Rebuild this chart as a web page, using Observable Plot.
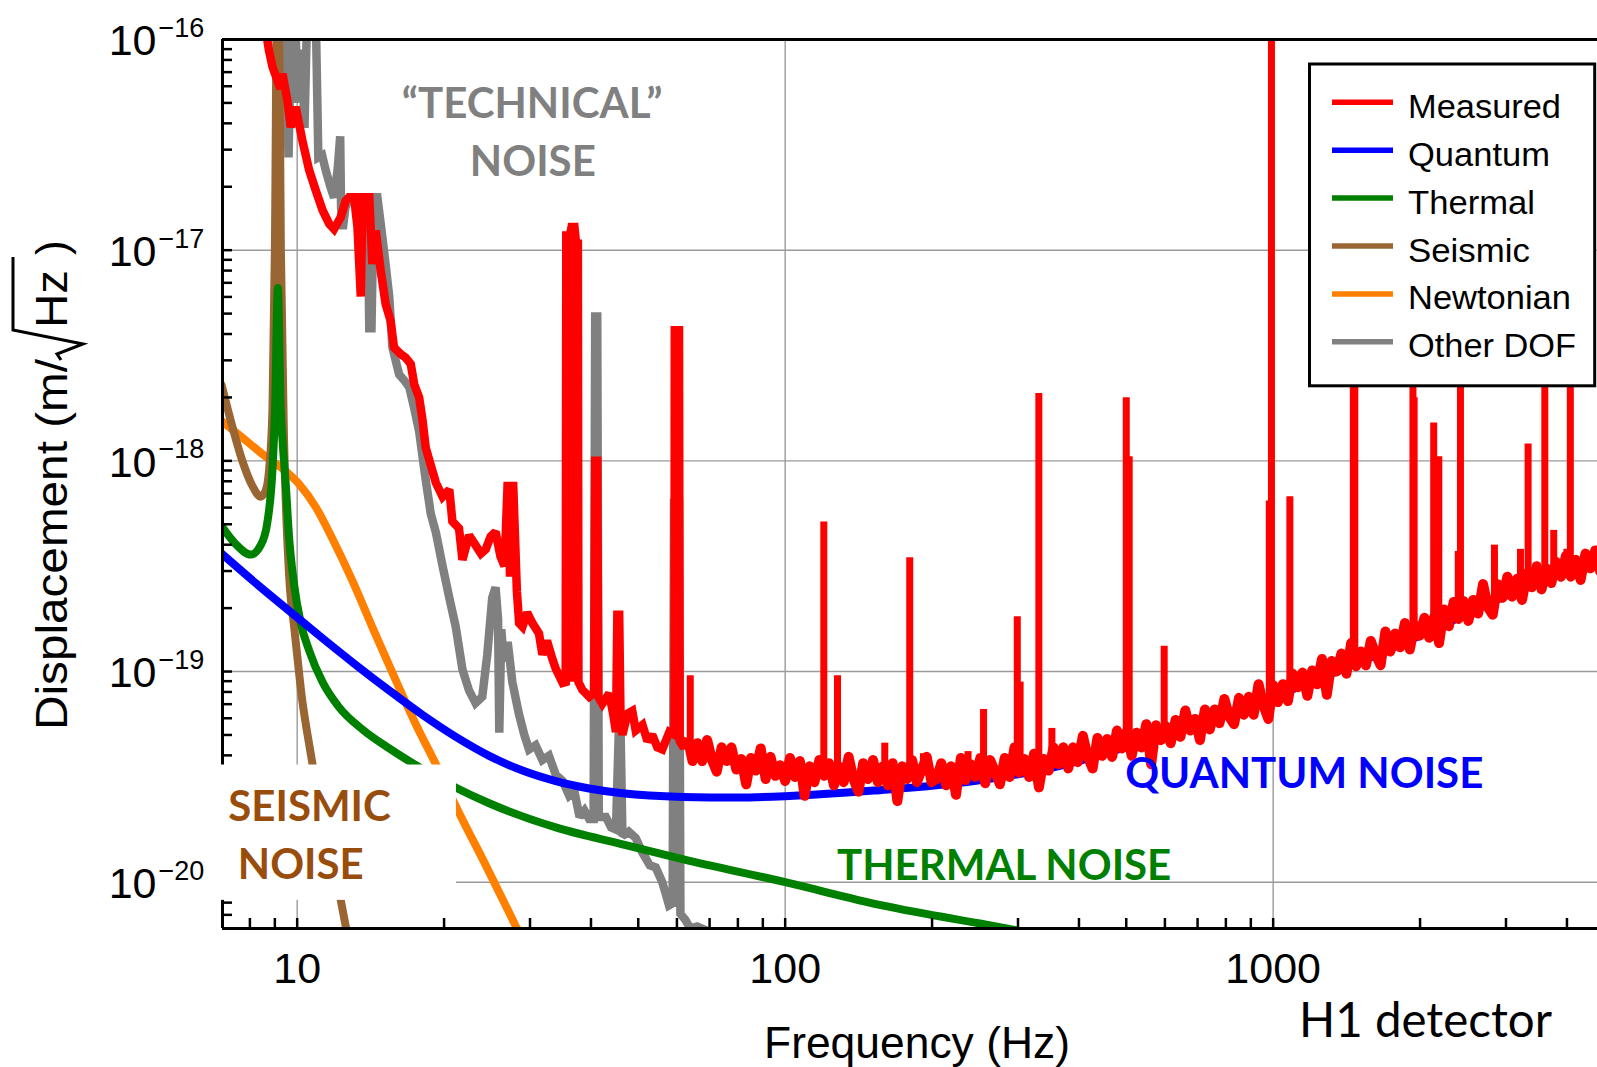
<!DOCTYPE html>
<html>
<head>
<meta charset="utf-8">
<script src="https://cdn.jsdelivr.net/npm/d3@7"></script>
<script src="https://cdn.jsdelivr.net/npm/@observablehq/plot@0.6"></script>
<style>
  html, body { margin: 0; padding: 0; background: #fff; }
  #wrap { position: relative; width: 1597px; height: 1067px; overflow: hidden; background: #fff; }
  #wrap > svg { position: absolute; left: 0; top: 0; }
</style>
</head>
<body>
<div id="wrap"></div>
<script>
// ================= DATA (frequency in Hz, value as log10 of m/sqrt(Hz)) =================
const seriesNames  = ["Measured", "Quantum", "Thermal", "Seismic", "Newtonian", "Other DOF"];
const seriesColors = ["#ff0000", "#0000ff", "#008000", "#996633", "#ff8000", "#808080"];

const xTickLabels    = [10, 100, 1000];
const yTickExponents = [-16, -17, -18, -19, -20];
const xDomainHz = [7.03, 4620];
const yDomain   = [6.03e-21, 1e-16];

// Quantum noise
const quantum = [[7.0,-18.44],[8.22,-18.58],[9.63,-18.712],[11.27,-18.842],[13.18,-18.968],[15.44,-19.09],
  [18.05,-19.205],[21.14,-19.31],[24.74,-19.40],[28.95,-19.47],[33.88,-19.52],[39.66,-19.555],[46.4,-19.578],
  [61.6,-19.595],[80,-19.598],[100,-19.592],[151.9,-19.565],[243.9,-19.52],[362,-19.45],[616,-19.29],
  [1000,-19.12],[1486,-18.96],[2200,-18.785],[3316,-18.595],[4700,-18.45]];

// Thermal noise
const thermal = [[7.0,-18.31],[7.48,-18.395],[8.03,-18.445],[8.42,-18.40],[8.69,-18.29],[8.90,-18.04],
  [9.01,-17.75],[9.13,-17.18],[9.25,-17.75],[9.33,-17.90],[9.48,-18.12],[9.63,-18.37],[9.86,-18.59],
  [10.17,-18.77],[10.58,-18.90],[11.27,-19.05],[12.19,-19.17],[13.61,-19.275],[15.44,-19.365],[17.37,-19.44],
  [21.31,-19.555],[24.74,-19.625],[33.88,-19.74],[46.4,-19.82],[61.6,-19.89],[100,-20.00],[158,-20.11],
  [293,-20.225],[400,-20.29]];

// Seismic noise
const seismic = [[7.0,-17.64],[7.37,-17.84],[7.72,-18.00],[8.10,-18.12],[8.42,-18.17],[8.62,-18.14],
  [8.76,-18.04],[8.9,-17.75],[9.0,-17.0],[9.13,-15.3],[9.26,-17.0],[9.4,-17.9],[9.63,-18.55],[9.86,-18.79],
  [10.05,-18.97],[10.22,-19.12],[10.5,-19.30],[10.75,-19.44],[11.65,-19.81],[12.6,-20.22],[13.3,-20.5]];

// Newtonian noise
const newtonian = [[7.0,-17.81],[7.72,-17.89],[8.62,-17.98],[9.48,-18.05],[10.09,-18.11],[10.92,-18.22],
  [11.81,-18.37],[12.98,-18.57],[14.26,-18.79],[15.91,-19.04],[17.5,-19.25],[19.24,-19.44],[21.46,-19.67],
  [24.35,-19.92],[28.07,-20.21],[30.5,-20.38]];

// Other degrees of freedom
const otherDOF = [[9.2,-15.8],[9.45,-15.8],[9.6,-16.56],[9.75,-15.8],[9.9,-15.8],[10.0,-16.30],[10.15,-16.05],
  [10.25,-16.10],[10.35,-16.42],[10.5,-15.8],[10.9,-15.8],[11.05,-16.56],[11.25,-16.55],[11.44,-16.62],
  [11.7,-16.70],[11.9,-16.75],[12.1,-16.62],[12.25,-16.46],[12.3,-16.80],[12.4,-16.90],[12.55,-16.80],
  [12.8,-16.749],[13.95,-16.749],[14.05,-17.37],[14.2,-17.37],[14.35,-16.749],[14.6,-16.749],[14.95,-16.94],
  [15.18,-17.07],[15.44,-17.22],[15.67,-17.46],[15.9,-17.52],[16.18,-17.59],[16.6,-17.62],[16.97,-17.65],
  [17.37,-17.75],[17.78,-17.86],[18.34,-18.09],[18.78,-18.25],[19.24,-18.34],[19.86,-18.50],[20.5,-18.65],
  [21.14,-18.79],[21.81,-18.99],[22.5,-19.09],[23.2,-19.15],[23.95,-19.12],[24.52,-18.92],[25.1,-18.65],
  [25.5,-18.60],[25.8,-18.75],[25.95,-19.29],[26.2,-18.80],[26.5,-18.95],[27.0,-18.86],[27.6,-19.05],
  [28.46,-19.20],[29.2,-19.30],[29.86,-19.37],[30.8,-19.35],[31.8,-19.42],[32.8,-19.40],[33.88,-19.49],
  [35.0,-19.52],[36.1,-19.59],[37.0,-19.57],[37.9,-19.69],[38.8,-19.66],[39.66,-19.70],[40.5,-19.70],
  [40.8,-17.315],[41.2,-17.315],[41.5,-19.69],[42.9,-19.69],[44.0,-19.74],[45.0,-19.75],[45.6,-19.29],
  [46.0,-19.29],[46.4,-19.78],[47.8,-19.76],[49.4,-19.79],[51.0,-19.86],[52.8,-19.92],[54.3,-19.93],
  [56.0,-20.00],[57.0,-20.06],[57.8,-20.11],[58.8,-20.10],[59.2,-18.2],[60.6,-18.2],[61.0,-20.15],
  [62.5,-20.18],[63.9,-20.22],[66.0,-20.21],[69.1,-20.23]];

// Measured, low-frequency part (below ~63 Hz)
const measuredLow = [[8.55,-15.9],[8.75,-16.05],[8.9,-16.13],[9.11,-16.195],[9.25,-16.234],[9.33,-16.163],
  [9.55,-16.29],[9.7,-16.417],[9.93,-16.32],[10.25,-16.48],[10.58,-16.62],[10.92,-16.717],[11.27,-16.81],
  [11.63,-16.875],[11.9,-16.9],[12.1,-16.87],[12.28,-16.844],[12.57,-16.765],[12.78,-16.749],[13.08,-16.749],
  [13.29,-16.89],[13.5,-17.22],[13.61,-16.749],[14.05,-16.749],[14.26,-17.066],[14.49,-16.907],[14.83,-17.097],
  [15.18,-17.256],[15.54,-17.335],[15.79,-17.462],[16.29,-17.493],[16.68,-17.51],[17.09,-17.54],[17.37,-17.636],
  [17.78,-17.7],[18.05,-17.8],[18.34,-17.937],[18.78,-18.02],[19.24,-18.104],[19.86,-18.17],[20.5,-18.137],
  [20.8,-18.287],[21.46,-18.32],[21.81,-18.47],[22.5,-18.354],[23.2,-18.4],[23.8,-18.44],[24.35,-18.42],
  [24.9,-18.36],[25.5,-18.337],[26.1,-18.454],[26.6,-18.5],[27.0,-18.1],[27.3,-18.55],[27.7,-18.1],[28.2,-18.62],
  [28.5,-18.77],[28.95,-18.787],[29.6,-18.72],[30.34,-18.77],[31.3,-18.82],[31.8,-18.92],[32.5,-18.853],
  [33.3,-18.937],[33.88,-18.987],[35.0,-19.054],[35.5,-19.05],[35.6,-16.93],[36.2,-16.93],[36.5,-16.89],
  [37.0,-16.89],[37.3,-16.97],[37.6,-16.97],[37.7,-19.05],[38.4,-19.087],[39.66,-19.12],[40.6,-19.1],
  [40.8,-18.0],[41.2,-18.0],[41.4,-19.12],[42.2,-19.153],[43.6,-19.104],[44.4,-19.2],[45.0,-19.287],
  [45.3,-18.73],[45.7,-18.73],[46.0,-19.25],[46.4,-19.3],[47.5,-19.2],[48.6,-19.187],[49.4,-19.28],
  [51.0,-19.254],[52.2,-19.33],[53.4,-19.3],[54.7,-19.36],[56.0,-19.37],[57.9,-19.287],[59.3,-19.3],
  [59.4,-17.38],[60.6,-17.38],[60.8,-19.33],[62.0,-19.362],[63.1,-19.315]];

// Measured, broadband part above ~63 Hz
const measuredHigh = [[63.1,-19.315],[64.6,-19.425],[66.1,-19.34],[67.6,-19.425],[69.2,-19.325],[70.8,-19.42],
  [72.4,-19.475],[74.1,-19.36],[75.9,-19.425],[77.6,-19.36],[79.4,-19.465],[81.3,-19.415],[83.2,-19.535],
  [85.1,-19.41],[87.1,-19.47],[89.1,-19.365],[91.2,-19.51],[93.3,-19.405],[95.5,-19.495],[97.7,-19.445],
  [100,-19.52],[102.3,-19.41],[104.7,-19.50],[107.2,-19.425],[109.6,-19.59],[112.2,-19.45],[114.8,-19.525],
  [117.5,-19.42],[120.2,-19.495],[123.0,-19.435],[125.9,-19.54],[128.8,-19.45],[131.8,-19.525],[134.9,-19.405],
  [138.0,-19.51],[141.3,-19.57],[144.5,-19.435],[147.9,-19.51],[151.4,-19.42],[154.9,-19.525],[158.5,-19.45],
  [162.2,-19.54],[166.0,-19.435],[169.8,-19.615],[173.8,-19.45],[177.8,-19.51],[182.0,-19.42],[186.2,-19.525],
  [190.5,-19.465],[195.0,-19.405],[199.5,-19.525],[204.2,-19.51],[208.9,-19.435],[213.8,-19.54],[218.8,-19.45],
  [223.9,-19.585],[229.1,-19.41],[234.4,-19.515],[239.9,-19.44],[245.5,-19.50],[251.2,-19.41],[257.0,-19.53],
  [263.0,-19.42],[269.2,-19.475],[275.4,-19.535],[281.8,-19.41],[288.4,-19.50],[295.1,-19.36],[302.0,-19.48],
  [309.0,-19.415],[316.2,-19.50],[323.6,-19.39],[331.1,-19.55],[338.8,-19.415],[346.7,-19.47],[354.8,-19.36],
  [363.1,-19.44],[371.5,-19.36],[380.2,-19.46],[389.0,-19.36],[398.1,-19.43],[407.4,-19.305],[416.9,-19.405],
  [426.6,-19.46],[436.5,-19.315],[446.7,-19.40],[457.1,-19.32],[467.7,-19.405],[478.6,-19.28],[489.8,-19.365],
  [501.2,-19.285],[512.9,-19.40],[524.8,-19.29],[537.0,-19.36],[549.5,-19.25],[562.3,-19.44],[575.4,-19.255],
  [588.8,-19.325],[602.6,-19.26],[616.6,-19.34],[631.0,-19.23],[645.7,-19.31],[660.7,-19.185],[676.1,-19.28],
  [691.8,-19.225],[707.9,-19.325],[724.4,-19.18],[741.3,-19.275],[758.6,-19.18],[776.2,-19.245],[794.3,-19.13],
  [812.8,-19.215],[831.8,-19.25],[851.1,-19.125],[871.0,-19.205],[891.3,-19.12],[912.0,-19.205],[933.3,-19.06],
  [955.0,-19.16],[977.2,-19.225],[1000,-19.065],[1023,-19.145],[1047,-19.06],[1072,-19.14],[1096,-19.01],
  [1122,-19.075],[1148,-19.005],[1175,-19.115],[1202,-18.995],[1230,-19.06],[1259,-18.94],[1288,-19.11],
  [1318,-18.95],[1349,-19.00],[1380,-18.915],[1413,-19.01],[1445,-18.865],[1479,-18.975],[1514,-18.905],
  [1549,-18.97],[1585,-18.855],[1622,-18.92],[1660,-18.97],[1698,-18.81],[1738,-18.905],[1778,-18.82],
  [1820,-18.885],[1862,-18.77],[1905,-18.895],[1950,-18.78],[1995,-18.83],[2042,-18.745],[2089,-18.84],
  [2138,-18.74],[2188,-18.865],[2239,-18.705],[2291,-18.785],[2344,-18.67],[2399,-18.75],[2455,-18.665],
  [2512,-18.76],[2570,-18.66],[2630,-18.725],[2692,-18.585],[2754,-18.695],[2818,-18.73],[2884,-18.585],
  [2951,-18.65],[3020,-18.55],[3090,-18.645],[3162,-18.56],[3236,-18.66],[3311,-18.535],[3388,-18.60],
  [3467,-18.50],[3548,-18.61],[3631,-18.51],[3715,-18.58],[3802,-18.48],[3890,-18.55],[3981,-18.45],
  [4074,-18.55],[4169,-18.47],[4266,-18.565],[4365,-18.44],[4467,-18.51],[4571,-18.425],[4677,-18.525],
  [4786,-18.43]];

// Measured, narrow spectral lines: [Hz, local floor, peak]
const measuredLines = [[36.0,-19.05,-16.93],[36.6,-19.05,-16.89],[37.2,-19.05,-16.97],
  [63.9,-19.36,-19.02],[120,-19.48,-18.29],[128,-19.48,-19.02],[160,-19.48,-19.34],
  [180,-19.48,-18.46],[192,-19.48,-19.39],[237,-19.47,-19.38],[255,-19.47,-19.18],[299,-19.45,-18.74],
  [303,-19.45,-19.05],[331,-19.43,-17.68],[352,-19.42,-19.27],[500,-19.33,-17.70],[507,-19.33,-17.98],
  [598,-19.29,-18.88],[982,-19.12,-18.19],[992,-19.12,-15.5],[1082,-19.08,-18.17],[1460,-18.94,-17.3],
  [1470,-18.94,-17.3],[1934,-18.82,-17.3],[1945,-18.82,-17.70],[2133,-18.77,-17.82],[2185,-18.76,-17.98],
  [2395,-18.72,-18.43],[2420,-18.72,-17.3],[2841,-18.65,-18.40],[3212,-18.59,-18.42],[3330,-18.58,-17.92],
  [3603,-18.55,-17.3],[3758,-18.53,-18.33],[4000,-18.51,-18.42],[4064,-18.51,-17.3]];

// Annotations: [text, Hz, log10 value, color]
const annotations = [["“TECHNICAL”",30.3,-16.309,"#808080"],["NOISE",30.4,-16.582,"#808080"],
  ["SEISMIC",10.6,-19.646,"#994d0d"],["NOISE",10.17,-19.92,"#994d0d"],
  ["QUANTUM NOISE",1158,-19.49,"#0000ff"],["THERMAL NOISE",281,-19.925,"#008000"]];
const seismicLabelBackground = [{x1: 6.7, x2: 21.2, y1: 8.2e-21, y2: 3.6e-20}];

// ================= LAYOUT =================
const W = 1597, H = 1067, MT = 39, MB = 139, ML = 222, MR = 0;
const frameW = W - ML - MR, frameH = H - MT - MB;
const SANS = "'Liberation Sans', Arial, sans-serif";
const toRows = pairs => pairs.map(([f, l]) => ({f, v: 10 ** l}));
const lineRows = measuredLines.map(([f, b, t]) => ({f, b: 10 ** b, t: 10 ** t}));
const [cMeas, cQuant, cTherm, cSeis, cNewt, cOther] = seriesColors;
const jag = {strokeWidth: 8.5, strokeLinejoin: "miter", strokeLinecap: "butt", strokeMiterlimit: 2, clip: true};
const noisy = {strokeWidth: 10, strokeLinejoin: "round", strokeLinecap: "butt", clip: true};
const smooth = {curve: "monotone-x", strokeWidth: 8, strokeLinejoin: "round", clip: true};

const xTicks = d3.scaleLog().domain(xDomainHz).ticks();
const yTicks = d3.scaleLog().domain(yDomain).ticks();

const annoMarks = annotations.map(([t, f, l, c]) => Plot.text([{f, v: 10 ** l}], {
  x: "f", y: "v", text: () => t, fill: c, fontFamily: "Lato", fontWeight: "bold", fontSize: 42, textAnchor: "middle"
}));

const chart = Plot.plot({
  width: W, height: H, marginTop: MT, marginBottom: MB, marginLeft: ML, marginRight: MR,
  x: {type: "log", domain: xDomainHz, axis: null},
  y: {type: "log", domain: yDomain, axis: null},
  style: {background: "white", fontFamily: SANS, overflow: "visible"},
  marks: [
    Plot.ruleX(xTickLabels, {stroke: "#9a9a9a", strokeWidth: 1.4}),
    Plot.ruleY(yTickExponents.map(e => 10 ** e), {stroke: "#9a9a9a", strokeWidth: 1.4}),
    Plot.line(toRows(otherDOF), {x: "f", y: "v", stroke: cOther, ...jag}),
    Plot.line(toRows(newtonian), {x: "f", y: "v", stroke: cNewt, ...smooth}),
    Plot.line(toRows(seismic), {x: "f", y: "v", stroke: cSeis, ...smooth}),
    Plot.line(toRows(thermal), {x: "f", y: "v", stroke: cTherm, ...smooth}),
    Plot.line(toRows(quantum), {x: "f", y: "v", stroke: cQuant, ...smooth}),
    Plot.line(toRows(measuredLow), {x: "f", y: "v", stroke: cMeas, ...jag}),
    Plot.line(toRows(measuredHigh), {x: "f", y: "v", stroke: cMeas, ...noisy}),
    Plot.ruleX(lineRows, {x: "f", y1: "b", y2: "t", stroke: cMeas, strokeWidth: 7, clip: true}),
    // frame and inward ticks
    Plot.ruleX(xTicks, {stroke: "black", strokeWidth: 2.5, insetTop: frameH - 10}),
    Plot.ruleY(yTicks, {stroke: "black", strokeWidth: 2.5, insetRight: frameW - 10}),
    Plot.ruleY([yDomain[1]], {stroke: "black", strokeWidth: 3}),
    Plot.ruleY([yDomain[0]], {stroke: "black", strokeWidth: 3}),
    Plot.ruleX([xDomainHz[0]], {stroke: "black", strokeWidth: 3}),
    // white background behind the seismic label
    Plot.rect(seismicLabelBackground, {x1: "x1", x2: "x2", y1: "y1", y2: "y2", fill: "white"}),
    ...annoMarks,
    // tick labels
    Plot.text(xTickLabels, {x: d => d, y: () => yDomain[0], dy: 41, text: d => `${d}`, fontSize: 43, textAnchor: "middle", fill: "black"}),
    Plot.text(yTickExponents, {y: d => 10 ** d, frameAnchor: "left", dx: -66, dy: 2, text: () => "10", fontSize: 43, textAnchor: "end", fill: "black"}),
    Plot.text(yTickExponents, {y: d => 10 ** d, frameAnchor: "left", dx: -64, dy: -11, text: d => "\u2212" + Math.abs(d), fontSize: 27, textAnchor: "start", fill: "black"})
  ]
});
document.getElementById("wrap").appendChild(chart);

// ================= OVERLAY: axis titles, detector tag, legend =================
const ov = d3.select("#wrap").append("svg").attr("width", W).attr("height", H)
  .style("font-family", SANS).style("pointer-events", "none");

ov.append("text").attr("x", 917).attr("y", 1057.5).attr("text-anchor", "middle")
  .attr("font-size", 44).attr("textLength", 306).attr("lengthAdjust", "spacingAndGlyphs").text("Frequency (Hz)");
ov.append("text").attr("x", 1299).attr("y", 1037).attr("font-family", "Lato").attr("font-size", 48)
  .attr("textLength", 253).attr("lengthAdjust", "spacingAndGlyphs").text("H1 detector");

// y title with a drawn radical
const yt = ov.append("g").attr("transform", "translate(67,730) rotate(-90)").attr("font-size", 44);
yt.append("text").attr("x", 0).attr("y", 0).attr("textLength", 371).attr("lengthAdjust", "spacingAndGlyphs").text("Displacement (m/");
yt.append("path").attr("d", "M370,-6 L376,-10 L386,16 L400,-54 L473,-54").attr("fill", "none")
  .attr("stroke", "black").attr("stroke-width", 3).attr("stroke-linejoin", "miter");
yt.append("text").attr("x", 402).attr("y", 0).attr("textLength", 58).attr("lengthAdjust", "spacingAndGlyphs").text("Hz");
yt.append("text").attr("x", 475).attr("y", 0).text(")");

// legend
const lg = ov.append("g");
lg.append("rect").attr("x", 1309.5).attr("y", 64).attr("width", 285.2).attr("height", 321.8)
  .attr("fill", "white").attr("stroke", "black").attr("stroke-width", 3);
const legendTextWidths = [153, 142, 127, 122, 163, 168];
seriesNames.forEach((name, i) => {
  const cy = 102.3 + 47.9 * i;
  lg.append("line").attr("x1", 1332).attr("x2", 1393).attr("y1", cy).attr("y2", cy)
    .attr("stroke", seriesColors[i]).attr("stroke-width", 5.5);
  lg.append("text").attr("x", 1408).attr("y", cy + 15.5).attr("font-size", 33)
    .attr("textLength", legendTextWidths[i]).attr("lengthAdjust", "spacingAndGlyphs").text(name);
});
</script>
</body>
</html>
